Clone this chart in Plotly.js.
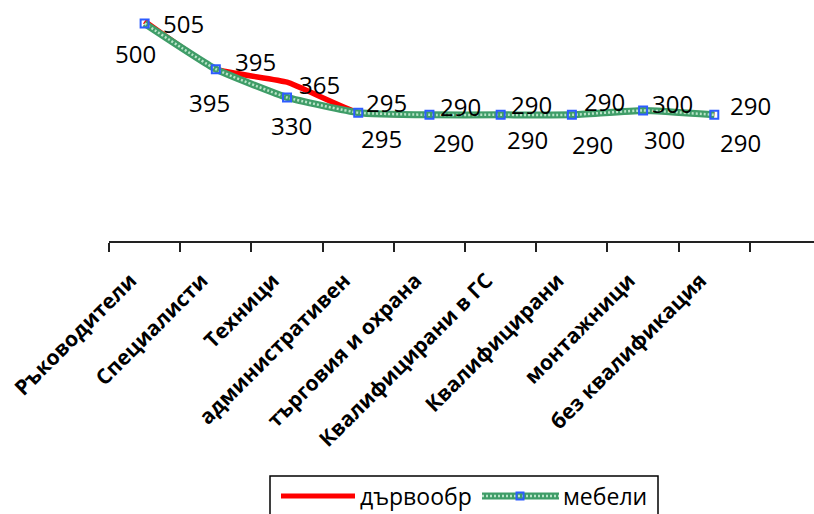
<!DOCTYPE html>
<html>
<head>
<meta charset="utf-8">
<script src="https://cdn.plot.ly/plotly-3.0.1.min.js"></script>
<style>
  html, body { margin: 0; padding: 0; background: #fff; }
  #chart { width: 814px; height: 514px; }
</style>
</head>
<body>
<div id="chart"></div>
<script>
// Occupational groups along the x axis
const categories = [
  'Ръководители', 'Специалисти', 'Техници', 'административен',
  'търговия и охрана', 'Квалифицирани в ГС', 'Квалифицирани',
  'монтажници', 'без квалификация'
];

// Series values
const woodworking = [505, 395, 365, 295, 290, 290, 290, 300, 290]; // дървообр
const furniture   = [500, 395, 330, 295, 290, 290, 290, 300, 290]; // мебели

const seriesNames = ['дървообр', 'мебели'];

// Label offsets from each point, in pixels [dx, dy]
const woodLabelShift = [[39, -2], [40, 8], [32, -2], [28, 10], [31, 8], [31, 10], [33, 13], [29, 7], [36, 9]];
const furnLabelShift = [[-9, -30], [-6, -33], [4, -28], [23, -26], [24, -28], [27, -25], [21, -30], [21, -29], [26, -28]];

const FONT = 'Open Sans, Noto Sans, DejaVu Sans, sans-serif';
const RED = '#ff0000';
const GREEN = '#3f9d68';
const GREEN_LIGHT = '#b9e4c8';
const BLUE = '#2d5cff';

const traces = [
  {
    x: categories, y: woodworking, name: seriesNames[0],
    type: 'scatter', mode: 'lines',
    line: { color: RED, width: 5.5, shape: 'spline', smoothing: 0.4 },
    hoverinfo: 'x+y'
  },
  {
    x: categories, y: furniture, name: seriesNames[1],
    type: 'scatter', mode: 'lines',
    line: { color: GREEN, width: 7, shape: 'spline', smoothing: 0.4 },
    hoverinfo: 'x+y'
  },
  {
    // light checker texture running along the green line
    x: categories, y: furniture, showlegend: false,
    type: 'scatter', mode: 'lines',
    line: { color: GREEN_LIGHT, width: 2.5, dash: '2px,2px', shape: 'spline', smoothing: 0.4 },
    hoverinfo: 'skip'
  },
  {
    x: categories, y: furniture, showlegend: false,
    type: 'scatter', mode: 'markers',
    marker: { symbol: 'square-open', size: 8, color: BLUE, line: { color: BLUE, width: 2 } },
    hoverinfo: 'skip'
  }
];

const annotations = [];
woodworking.forEach((v, i) => {
  annotations.push({
    x: categories[i], y: v, xref: 'x', yref: 'y', text: String(v), showarrow: false,
    xanchor: 'center', yanchor: 'middle',
    xshift: woodLabelShift[i][0], yshift: woodLabelShift[i][1],
    font: { family: FONT, size: 24, color: '#000' }
  });
});
furniture.forEach((v, i) => {
  annotations.push({
    x: categories[i], y: v, xref: 'x', yref: 'y', text: String(v), showarrow: false,
    xanchor: 'center', yanchor: 'middle',
    xshift: furnLabelShift[i][0], yshift: furnLabelShift[i][1],
    font: { family: FONT, size: 24, color: '#000' }
  });
});

// Legend box drawn below the axis labels (paper units relative to the plot area)
const PL = 109, PW = 705, PH = 241;
const px = v => (v - PL) / PW;
const py = v => (PH - v) / PH;

annotations.push(
  { xref: 'paper', yref: 'paper', x: px(358), y: py(496), text: seriesNames[0], showarrow: false,
    xanchor: 'left', yanchor: 'middle', font: { family: FONT, size: 23, color: '#000' } },
  { xref: 'paper', yref: 'paper', x: px(561), y: py(496), text: seriesNames[1], showarrow: false,
    xanchor: 'left', yanchor: 'middle', font: { family: FONT, size: 23, color: '#000' } }
);

const shapes = [
  { type: 'rect', xref: 'paper', yref: 'paper', x0: px(270), x1: px(658), y0: py(476), y1: py(530),
    line: { color: '#000', width: 1.5 }, fillcolor: 'rgba(0,0,0,0)' },
  { type: 'line', xref: 'paper', yref: 'paper', x0: px(281), x1: px(355), y0: py(496), y1: py(496),
    line: { color: RED, width: 5 } },
  { type: 'line', xref: 'paper', yref: 'paper', x0: px(482), x1: px(559), y0: py(496), y1: py(496),
    line: { color: GREEN, width: 7 } },
  { type: 'line', xref: 'paper', yref: 'paper', x0: px(482), x1: px(559), y0: py(496), y1: py(496),
    line: { color: GREEN_LIGHT, width: 2.5, dash: '2px,2px' } },
  { type: 'rect', xref: 'paper', yref: 'paper', x0: px(516.5), x1: px(523.5), y0: py(492.5), y1: py(499.5),
    line: { color: BLUE, width: 2 }, fillcolor: 'rgba(0,0,0,0)' }
];

const layout = {
  width: 814, height: 514,
  margin: { l: PL, r: 0, t: 0, b: 514 - PH, pad: 0 },
  paper_bgcolor: '#fff', plot_bgcolor: '#fff',
  showlegend: false,
  xaxis: {
    type: 'category', range: [-0.5, 9.4], fixedrange: true,
    tickson: 'boundaries', ticks: 'outside', ticklen: 9, tickwidth: 2, tickcolor: '#222',
    showline: true, linecolor: '#222', linewidth: 2, showgrid: false, zeroline: false,
    tickangle: -45, ticklabelstandoff: 17, ticklabelshift: -14,
    tickfont: { family: FONT, size: 21, weight: 700, color: '#000' }
  },
  yaxis: {
    range: [0, 554], visible: false, fixedrange: true, showgrid: false, zeroline: false
  },
  annotations: annotations,
  shapes: shapes
};

Plotly.newPlot('chart', traces, layout, { displayModeBar: false, staticPlot: true });
</script>
</body>
</html>
